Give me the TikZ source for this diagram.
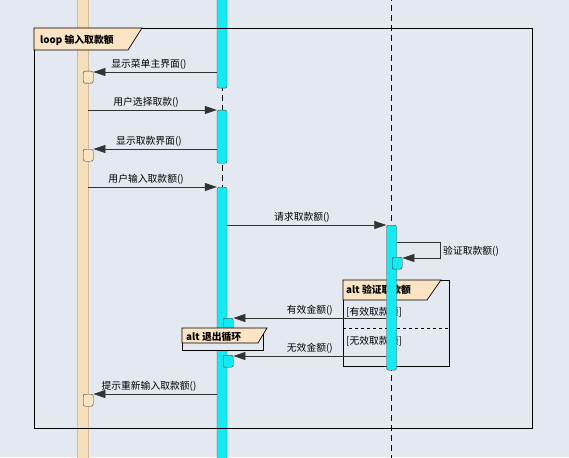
\documentclass[tikz,border=0pt]{standalone}
\usepackage{fontspec}
\setmainfont{Noto Sans CJK SC}
\usetikzlibrary{arrows.meta}

\definecolor{bgcol}{RGB}{228,232,241}
\definecolor{tancol}{RGB}{245,222,186}
\definecolor{tanedge}{RGB}{214,186,150}
\definecolor{tabcol}{RGB}{250,228,196}
\definecolor{barcol}{RGB}{20,234,242}

\begin{document}
\begin{tikzpicture}[x=1pt,y=-1pt,
    font=\fontsize{9.8}{11}\selectfont,
    lifetan/.style={draw=tanedge,fill=tancol,minimum width=11pt,inner sep=0pt,anchor=north},
    actbar/.style={draw=black!70,fill=barcol,rounded corners=2pt,minimum width=10pt,inner sep=0pt,anchor=north},
    actbox/.style={draw=black!80,rounded corners=2pt,minimum width=10pt,minimum height=12pt,inner sep=0pt,anchor=north west},
    lifeline/.style={draw=black,line width=0.7pt,dash pattern=on 6pt off 4pt},
    msg/.style={draw=black!80,line width=0.7pt,-{Triangle[length=12pt,width=8pt]}},
    lbl/.style={above=1pt,inner sep=1pt},
    frame/.style={draw=black,line width=0.8pt},
    tab/.style={draw=black,line width=0.7pt,fill=tabcol},
    tablbl/.style={anchor=west,inner sep=0pt,font=\fontsize{9.8}{11}\selectfont\bfseries}]

    \useasboundingbox[fill=bgcol] (0,0) rectangle (569,457);

    % lifelines
    \coordinate (top2) at (222,-5);
    \coordinate (bot2) at (222,462);
    \coordinate (top3) at (391.5,-5);
    \coordinate (bot3) at (391.5,462);
    \draw[lifeline] (top2) -- (bot2);
    \draw[lifeline] (top3) -- (bot3);
    \node[lifetan,minimum height=467pt] (user) at (82.5,-5) {};

    \node[actbar,minimum height=93pt] (bar2a) at (222,-5) {};
    \node[actbar,minimum height=53pt] (bar2b) at (222,110) {};
    \node[actbar,minimum height=280pt] (bar2c) at (222,187) {};

    % alt: check amount
    \draw[frame,line width=0.7pt] (343,280) rectangle (449,366);
    \draw[tab] (343,280) -- (441,280) -- (427,300) -- (343,300) -- cycle;
    \node[tablbl] (alt1) at (346,290) {alt 验证取款额};
    \draw[black,line width=0.7pt,dashed] (343,328) -- (449,328);
    \node[anchor=west,inner sep=0pt] (g1) at (346,312) {[有效取款额]};
    \node[anchor=west,inner sep=0pt] (g2) at (346,341) {[无效取款额]};

    \node[actbar,minimum height=145pt] (bar3) at (391.5,225) {};

    % loop frame
    \draw[frame] (34,28) rectangle (532,428);
    \draw[tab] (34,28) -- (142,28) -- (128,50) -- (34,50) -- cycle;
    \node[tablbl] (loop) at (40,40) {loop 输入取款额};

    % activation boxes
    \node[actbox,fill=tabcol] (ret1) at (83,71) {};
    \node[actbox,fill=tabcol] (ret2) at (83,149) {};
    \node[actbox,fill=barcol] (chk) at (392,257) {};
    \node[actbox,fill=barcol] (ok) at (223,318) {};
    \node[actbox,fill=barcol] (bad) at (223,355) {};
    \node[actbox,fill=tabcol] (ret3) at (83,394) {};

    % messages
    \coordinate (m1) at (0,72);
    \coordinate (m2) at (0,110);
    \coordinate (m3) at (0,149);
    \coordinate (m4) at (0,187);
    \coordinate (m5) at (0,225);
    \coordinate (m6) at (0,242);
    \coordinate (m6b) at (0,258);
    \coordinate (m7) at (0,318);
    \coordinate (m8) at (0,356);
    \coordinate (m9) at (0,394);

    \draw[msg] (bar2a.west |- m1) -- (ret1.east |- m1) node[lbl,pos=0.55] {显示菜单主界面()};
    \draw[msg] (user.east |- m2) -- (bar2b.west |- m2) node[lbl,pos=0.45] {用户选择取款()};
    \draw[msg] (bar2b.west |- m3) -- (ret2.east |- m3) node[lbl,pos=0.55] {显示取款界面()};
    \draw[msg] (user.east |- m4) -- (bar2c.west |- m4) node[lbl,pos=0.45] {用户输入取款额()};
    \draw[msg] (bar2c.east |- m5) -- (bar3.west |- m5) node[lbl,pos=0.47] {请求取款额()};
    \draw[msg] (bar3.east |- m6) -- ++(44,0) |- (chk.east |- m6b);
    \node[anchor=west,inner sep=0pt] (chklbl) at (443,251) {验证取款额()};
    \draw[msg] (bar3.west |- m7) -- (ok.east |- m7) node[lbl,pos=0.5] {有效金额()};
    \draw[msg] (bar3.west |- m8) -- (bad.east |- m8) node[lbl,pos=0.5] {无效金额()};
    \draw[msg] (bar2c.west |- m9) -- (ret3.east |- m9) node[lbl,pos=0.55] {提示重新输入取款额()};

    % alt: leave loop
    \draw[frame,fill=bgcol,line width=0.7pt] (182,328) rectangle (263,350);
    \draw[tab] (182,328) -- (267,328) -- (258,343) -- (182,343) -- cycle;
    \node[tablbl] (alt2) at (186,337) {alt 退出循环};
\end{tikzpicture}
\end{document}
